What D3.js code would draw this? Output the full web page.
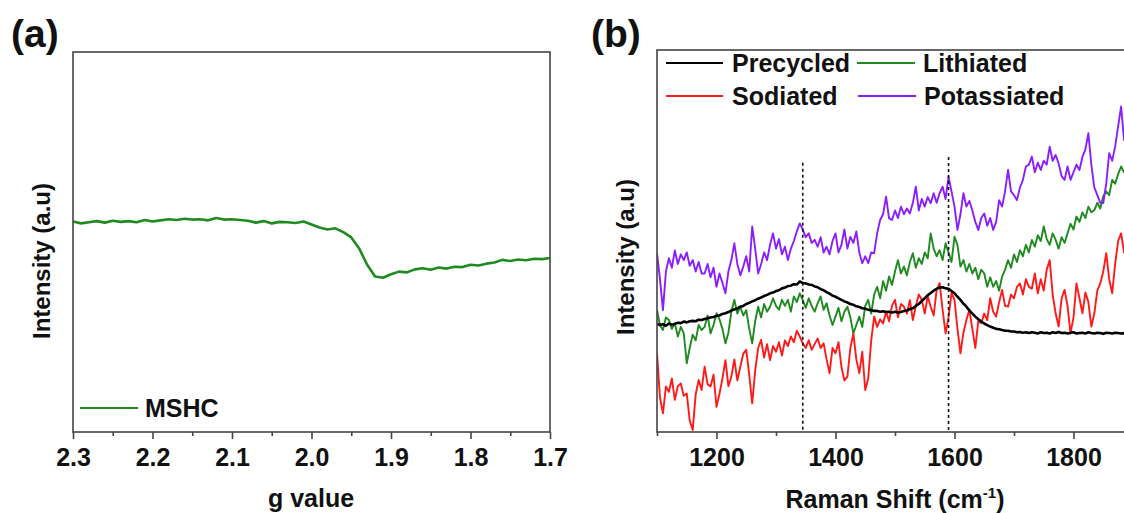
<!DOCTYPE html>
<html lang="en">
<head>
    <meta charset="UTF-8">
    <title>EPR and Raman</title>
    <script src="https://d3js.org/d3.v7.min.js"></script>
    <style>
        body { margin: 0; background: #fff; }
        text { font-family: "Liberation Sans", Arial, sans-serif; font-weight: bold; fill: #111; }
    </style>
</head>
<body>
<svg id="chart" width="1124" height="513"></svg>
<script>
// panel (a): EPR, g value from 2.30 to 1.70 in steps of 0.01
const gValues = d3.range(0, 61).map(i => +(2.3 - i * 0.01).toFixed(2));
const mshc = [
  55.4, 54.9, 55.2, 55.5, 55.1, 55.6, 55.3, 55.5, 55.2, 55.8,
  55.4, 55.7, 56.0, 55.8, 56.1, 55.9, 56.0, 55.7, 56.3, 55.9,
  56.0, 55.8, 55.6, 55.1, 55.5, 54.9, 55.3, 55.2, 55.0, 55.4,
  54.6, 53.8, 53.3, 53.6, 52.6, 51.2, 48.3, 44.0, 40.9, 40.6,
  41.5, 42.2, 42.0, 42.8, 43.1, 42.7, 43.3, 43.0, 43.5, 43.4,
  44.0, 43.8, 44.3, 44.6, 45.3, 45.0, 45.4, 45.2, 45.6, 45.5,
  45.8
];
const gTicks = [2.3, 2.2, 2.1, 2.0, 1.9, 1.8, 1.7];
const gMinorTicks = [2.25, 2.15, 2.05, 1.95, 1.85, 1.75];

// panel (b): Raman, shift from 1100 to 1900 cm-1 in steps of 5
const shift = d3.range(1100, 1901, 5);
const precycled = [
  28.3, 28.0, 28.2, 27.8, 28.4, 28.1, 28.3, 28.6, 28.5, 28.9, 28.7, 29.0, 29.1, 29.0, 29.4, 29.3,
  29.6, 29.8, 30.0, 30.1, 30.4, 30.5, 30.9, 31.1, 31.4, 31.8, 32.1, 32.3, 32.8, 33.0, 33.5, 33.8,
  34.2, 34.5, 34.9, 35.2, 35.6, 35.9, 36.3, 36.5, 36.9, 37.1, 37.6, 37.8, 38.2, 38.3, 38.7, 38.6,
  39.4, 39.0, 38.9, 38.6, 38.5, 38.1, 37.9, 37.4, 37.1, 36.6, 36.2, 35.7, 35.4, 35.0, 34.6, 34.2,
  33.9, 33.5, 33.3, 32.9, 32.7, 32.4, 32.3, 32.0, 31.9, 31.7, 31.7, 31.5, 31.6, 31.4, 31.5, 31.3,
  31.5, 31.3, 31.4, 31.7, 31.8, 32.2, 32.4, 33.0, 33.5, 34.3, 35.0, 35.8, 36.4, 37.0, 37.5, 37.8,
  37.9, 37.6, 37.5, 36.9, 36.3, 35.4, 34.6, 33.6, 32.8, 31.8, 31.0, 30.2, 29.5, 28.9, 28.4, 28.0,
  27.6, 27.3, 27.0, 26.9, 26.7, 26.5, 26.5, 26.3, 26.3, 26.1, 26.2, 26.0, 26.1, 25.9, 26.1, 26.0,
  25.8, 26.1, 25.9, 26.0, 25.8, 26.1, 25.9, 26.2, 25.9, 26.0, 25.8, 26.0, 26.1, 25.8, 25.9, 26.0,
  25.8, 26.1, 25.9, 25.8, 26.0, 25.9, 25.7, 26.0, 25.9, 25.8, 26.0, 25.9, 25.8, 25.9, 25.8, 26.0,
  25.9
];
const lithiated = [
  31.9, 28.0, 26.7, 30.0, 29.3, 27.0, 28.5, 25.0, 27.5, 25.8, 18.0, 22.0, 25.5, 24.0, 28.0, 26.7,
  27.5, 30.5, 25.8, 28.0, 31.1, 29.5, 27.0, 23.2, 26.0, 31.5, 34.6, 31.0, 32.8, 30.5, 31.9, 27.0,
  23.2, 29.0, 32.8, 30.0, 33.5, 31.5, 32.8, 35.0, 33.0, 32.0, 34.6, 33.0, 34.6, 31.5, 35.5, 34.0,
  36.3, 34.5, 32.5, 35.0, 33.0, 31.5, 33.7, 35.5, 32.0, 33.7, 30.5, 28.0, 30.2, 32.5, 29.0, 31.5,
  32.8, 30.0, 25.8, 28.0, 30.2, 27.5, 33.0, 34.6, 31.0, 36.0, 38.0, 35.0, 39.5, 37.0, 40.7, 38.5,
  42.0, 45.0, 41.5, 43.3, 41.0, 44.5, 46.8, 43.0, 45.5, 44.0, 47.0, 45.5, 52.0, 48.0, 46.0, 47.6,
  45.0, 49.4, 47.0, 44.5, 51.1, 49.0, 43.3, 45.0, 42.0, 44.0, 41.5, 43.0, 40.0, 42.5, 41.5, 38.0,
  40.5, 38.0, 39.5, 37.0, 40.7, 42.5, 45.0, 43.0, 46.5, 44.5, 47.6, 46.0, 49.0, 47.0, 50.3, 48.5,
  51.5, 50.0, 53.8, 50.5, 49.0, 52.0, 50.3, 48.0, 51.0, 49.5, 52.0, 54.5, 53.0, 56.4, 55.0, 57.5,
  56.0, 59.0, 57.5, 58.1, 60.0, 58.5, 61.7, 63.0, 62.0, 66.0, 65.0, 67.5, 69.5, 68.0, 70.0, 69.0,
  70.5
];
const sodiated = [
  20.6, 9.0, 4.9, 11.9, 10.5, 14.0, 8.4, 12.0, 12.7, 9.5, 10.1, 3.0, 0.5, 9.8, 13.6, 11.0,
  17.1, 12.5, 11.9, 15.0, 6.6, 10.0, 14.0, 18.8, 12.0, 14.5, 19.0, 13.5, 17.1, 20.5, 21.5, 15.0,
  7.5, 16.0, 22.0, 24.1, 19.5, 23.0, 18.8, 22.5, 21.0, 23.5, 20.0, 24.0, 22.5, 25.0, 23.5, 26.5,
  25.0, 23.2, 22.0, 24.0, 21.5, 23.0, 24.5, 22.0, 23.2, 19.0, 15.4, 22.0, 20.6, 23.5, 17.0, 13.5,
  14.5, 22.0, 25.8, 19.0, 15.4, 21.0, 11.0, 14.0, 24.0, 30.2, 27.5, 29.5, 28.4, 31.5, 29.0, 33.0,
  34.6, 30.0, 33.5, 32.8, 31.0, 34.5, 29.3, 33.0, 36.0, 34.6, 31.0, 35.5, 32.8, 30.5, 37.2, 39.0,
  32.0, 25.8, 30.0, 36.5, 34.6, 27.0, 20.6, 26.0, 29.3, 32.0, 27.0, 22.0, 29.0, 28.5, 31.0, 29.3,
  35.0, 31.5, 30.2, 34.0, 37.2, 33.0, 32.8, 36.0, 35.0, 38.0, 38.9, 36.0, 40.0, 38.0, 37.5, 41.5,
  36.3, 40.0, 37.0, 42.5, 45.0, 36.0, 31.0, 27.6, 35.0, 37.2, 33.0, 25.8, 30.0, 38.9, 35.0, 31.1,
  36.5, 34.0, 27.6, 31.0, 37.0, 38.9, 42.0, 46.8, 40.0, 36.3, 44.0, 50.0, 52.0, 47.0, 49.0, 51.0,
  50.0
];
const potassiated = [
  46.8, 40.0, 31.9, 42.0, 45.5, 43.0, 47.5, 44.0, 46.5, 45.0, 47.0, 43.5, 45.0, 42.0, 44.5, 41.5,
  41.5, 44.0, 40.5, 43.0, 38.0, 41.5, 39.0, 36.3, 42.0, 45.0, 49.4, 44.0, 41.0, 43.3, 46.0, 42.0,
  53.8, 48.0, 41.5, 44.0, 47.0, 45.0, 49.0, 52.0, 48.0, 50.5, 46.5, 48.5, 45.0, 48.0, 50.0, 52.5,
  54.6, 53.0, 51.0, 52.0, 49.5, 50.3, 48.5, 51.0, 47.0, 48.5, 46.5, 50.0, 52.0, 47.0, 49.0, 53.0,
  48.0, 51.1, 49.5, 52.5, 47.0, 44.2, 46.0, 44.2, 47.0, 46.8, 52.0, 55.5, 57.0, 61.6, 56.0, 55.5,
  58.0, 56.0, 59.0, 57.0, 58.5, 57.2, 60.0, 64.2, 58.0, 61.0, 59.0, 61.5, 59.9, 62.5, 60.0, 62.5,
  64.2, 61.0, 66.8, 63.0, 59.0, 52.9, 57.0, 62.5, 59.0, 60.5, 58.0, 55.0, 52.9, 56.0, 57.2, 54.0,
  56.0, 52.9, 55.0, 60.7, 59.0, 63.0, 68.6, 63.0, 62.0, 60.7, 64.0, 66.0, 69.5, 70.0, 72.1, 68.0,
  70.5, 68.6, 71.0, 70.0, 74.7, 71.0, 72.5, 70.3, 67.0, 66.0, 69.5, 66.0, 68.0, 70.0, 68.6, 72.0,
  74.0, 78.2, 70.0, 64.0, 62.0, 60.0, 59.9, 65.0, 73.0, 71.0, 74.7, 80.0, 85.2, 76.4, 80.0, 78.0,
  81.0
];
const peakLines = [1345, 1590];
const peakTops = [70.5, 72.0];
const shiftTicks = [1200, 1400, 1600, 1800];
const shiftMinorTicks = [1100, 1300, 1500, 1700, 1900];
const ramanSeries = ["Lithiated", "Sodiated", "Potassiated", "Precycled"];
const ramanColors = { Precycled: "#000000", Lithiated: "#1f8a1f", Sodiated: "#ff1a1a", Potassiated: "#8a1eff" };

const svg = d3.select("#chart");

// ---------- panel (a)
const xA = d3.scaleLinear().domain([2.3, 1.7]).range([73, 550]);
const yA = d3.scaleLinear().domain([0, 100]).range([432, 52]);

svg.append("clipPath").attr("id", "clipA")
  .append("rect").attr("x", 73).attr("y", 52).attr("width", 477).attr("height", 380);

svg.append("path")
  .datum(gValues.map((g, i) => [g, mshc[i]]))
  .attr("clip-path", "url(#clipA)")
  .attr("fill", "none")
  .attr("stroke", "#1f8a1f")
  .attr("stroke-width", 2.6)
  .attr("stroke-linejoin", "round")
  .attr("d", d3.line().x(d => xA(d[0])).y(d => yA(d[1])));

svg.append("rect")
  .attr("x", 73).attr("y", 52).attr("width", 477).attr("height", 380)
  .attr("fill", "none").attr("stroke", "#444").attr("stroke-width", 1.6);

svg.append("g").attr("transform", "translate(0,432)")
  .call(d3.axisBottom(xA).tickValues(gTicks).tickFormat(d3.format(".1f")).tickSize(7).tickSizeOuter(0).tickPadding(9));
svg.append("g").attr("transform", "translate(0,432)")
  .call(d3.axisBottom(xA).tickValues(gMinorTicks).tickFormat("").tickSize(4).tickSizeOuter(0));

svg.append("text").attr("x", 311).attr("y", 507).attr("text-anchor", "middle")
  .style("font-size", "25px").text("g value");
svg.append("text").attr("transform", "translate(50,261) rotate(-90)").attr("text-anchor", "middle")
  .style("font-size", "24px").text("Intensity (a.u)");
svg.append("text").attr("x", 11).attr("y", 47).style("font-size", "39px").text("(a)");

svg.append("line").attr("x1", 80).attr("x2", 138).attr("y1", 408).attr("y2", 408)
  .attr("stroke", "#1f8a1f").attr("stroke-width", 2.2);
svg.append("text").attr("x", 145).attr("y", 417).style("font-size", "25px").text("MSHC");

// ---------- panel (b)
const xB = d3.scaleLinear().domain([1100, 1900]).range([657, 1133]);
const yB = d3.scaleLinear().domain([0, 100]).range([432, 50]);
const seriesData = { Precycled: precycled, Lithiated: lithiated, Sodiated: sodiated, Potassiated: potassiated };

svg.append("clipPath").attr("id", "clipB")
  .append("rect").attr("x", 657).attr("y", 50).attr("width", 476).attr("height", 382);

const lineB = d3.line().x(d => xB(d[0])).y(d => yB(d[1]));
svg.append("g").attr("clip-path", "url(#clipB)")
  .selectAll("path")
  .data(ramanSeries)
  .enter().append("path")
  .attr("fill", "none")
  .attr("stroke", d => ramanColors[d])
  .attr("stroke-width", d => d === "Precycled" ? 2.6 : 1.9)
  .attr("stroke-linejoin", "round")
  .attr("d", d => lineB(shift.map((s, i) => [s, seriesData[d][i]])));

svg.append("g").selectAll("line")
  .data(peakLines)
  .enter().append("line")
  .attr("x1", d => xB(d)).attr("x2", d => xB(d))
  .attr("y1", (d, i) => yB(peakTops[i])).attr("y2", yB(0))
  .attr("stroke", "#111").attr("stroke-width", 1.6).attr("stroke-dasharray", "3,3");

svg.append("rect")
  .attr("x", 657).attr("y", 50).attr("width", 476).attr("height", 382)
  .attr("fill", "none").attr("stroke", "#444").attr("stroke-width", 1.6);

svg.append("g").attr("transform", "translate(0,432)")
  .call(d3.axisBottom(xB).tickValues(shiftTicks).tickFormat(d3.format("d")).tickSize(7).tickSizeOuter(0).tickPadding(9));
svg.append("g").attr("transform", "translate(0,432)")
  .call(d3.axisBottom(xB).tickValues(shiftMinorTicks).tickFormat("").tickSize(4).tickSizeOuter(0));

const xTitle = svg.append("text").attr("x", 895).attr("y", 508).attr("text-anchor", "middle")
  .style("font-size", "25px");
xTitle.append("tspan").text("Raman Shift (cm");
xTitle.append("tspan").attr("dy", -10).style("font-size", "15px").text("-1");
xTitle.append("tspan").attr("dy", 10).text(")");
svg.append("text").attr("transform", "translate(634,257) rotate(-90)").attr("text-anchor", "middle")
  .style("font-size", "24px").text("Intensity (a.u)");
svg.append("text").attr("x", 591).attr("y", 47).style("font-size", "39px").text("(b)");

const legendItems = [
  { name: "Precycled", x1: 666, x2: 723, tx: 732, y: 63 },
  { name: "Lithiated", x1: 857, x2: 915, tx: 923, y: 63 },
  { name: "Sodiated", x1: 666, x2: 723, tx: 732, y: 96 },
  { name: "Potassiated", x1: 858, x2: 916, tx: 924, y: 96 }
];
const leg = svg.append("g").selectAll("g").data(legendItems).enter().append("g");
leg.append("line")
  .attr("x1", d => d.x1).attr("x2", d => d.x2).attr("y1", d => d.y).attr("y2", d => d.y)
  .attr("stroke", d => ramanColors[d.name]).attr("stroke-width", 2);
leg.append("text").attr("x", d => d.tx).attr("y", d => d.y + 9)
  .style("font-size", "25px").text(d => d.name);

svg.selectAll(".tick text").style("font-size", "25px").style("font-family", "'Liberation Sans', Arial, sans-serif").style("font-weight", "bold").attr("fill", "#111");
svg.selectAll(".tick line").attr("stroke", "#444").attr("stroke-width", 1.6);
svg.selectAll(".domain").remove();
</script>
</body>
</html>
